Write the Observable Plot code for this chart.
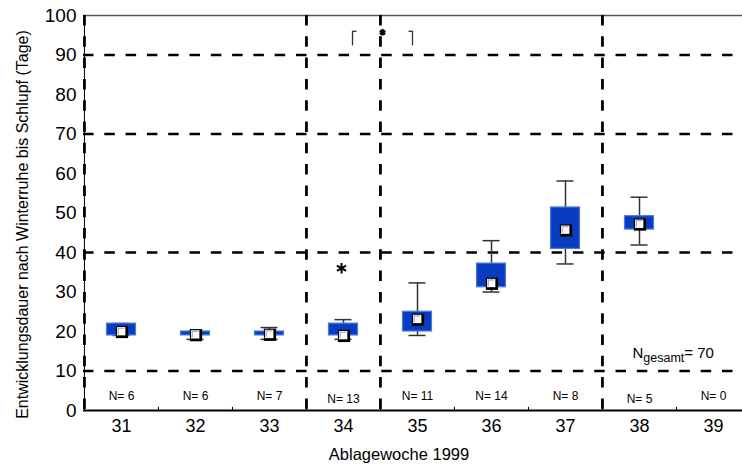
<!DOCTYPE html>
<html>
<head>
<meta charset="utf-8">
<script src="https://cdn.jsdelivr.net/npm/d3@7"></script>
<script src="https://cdn.jsdelivr.net/npm/@observablehq/plot@0.6"></script>
<style>
  body { margin: 0; background: #fff; }
</style>
</head>
<body>
<div id="chart"></div>
<script>
// Laying week (1999) and development time after hibernation until hatching (days)
const weeks = ["31", "32", "33", "34", "35", "36", "37", "38", "39"];
const counts = [6, 6, 7, 13, 11, 14, 8, 5, 0];
const whiskerLow = [19, 18, 18, 18, 19, 30, 37.1, 41.9, null];
const quartileLow = [19, 19, 19, 19, 20, 31.2, 40.9, 45.8, null];
const medians = [20, 19.2, 19.3, 19, 23.1, 32.2, 45.7, 47.2, null];
const quartileHigh = [22, 20, 20, 22, 25, 37.2, 51.4, 49.2, null];
const whiskerHigh = [22, 20, 21, 23, 32.3, 43, 58.1, 54, null];

// Outliers
const outlierWeeks = ["34"];
const outlierValues = [36];

// Reference levels and week-group dividers
const referenceLevels = [10, 40, 70, 90];
const dividerWeeks = ["31", "34", "35", "38"];
const boundaryWeeks = ["32", "33", "34", "35", "36", "37", "38", "39"];
const yTicks = [0, 10, 20, 30, 40, 50, 60, 70, 80, 90, 100];

// Significance bracket between weeks 34 and 35
const bracketFrom = ["34"];
const bracketTo = ["35"];
const bracketLow = [92.3];
const bracketHigh = [96];

const total = d3.sum(counts);

const width = 742, height = 468;
const marginLeft = 83, marginRight = -8, marginTop = 15, marginBottom = 58;
const bw = (width - marginRight - marginLeft) / weeks.length;

const boxes = weeks.map((w, i) => ({
  week: w, n: counts[i], lo: whiskerLow[i], q1: quartileLow[i],
  med: medians[i], q3: quartileHigh[i], hi: whiskerHigh[i]
})).filter(d => d.med != null);
const labels = weeks.map((w, i) => ({week: w, text: "N= " + counts[i]}));
const outliers = outlierWeeks.map((w, i) => ({week: w, value: outlierValues[i]}));
const brackets = bracketFrom.map((f, i) => ({from: f, to: bracketTo[i], low: bracketLow[i], high: bracketHigh[i]}));

// Small custom symbols: a corner highlight and bracket hooks
const corner = {draw(ctx, size) { const s = Math.sqrt(size) / 2; ctx.moveTo(-s, s); ctx.lineTo(-s, -s); ctx.lineTo(s, -s); }};
const hookRight = {draw(ctx, size) { const r = Math.sqrt(size / Math.PI); ctx.moveTo(0, 0); ctx.lineTo(r, 0); }};
const hookLeft = {draw(ctx, size) { const r = Math.sqrt(size / Math.PI); ctx.moveTo(0, 0); ctx.lineTo(-r, 0); }};

const dash = "10.5,10.8";
const shifted = new Set(["34", "38"]);
const totalLabel = "Ngesamt= " + total;

const chart = Plot.plot({
  width, height, marginLeft, marginRight, marginTop, marginBottom,
  style: {fontFamily: "'Liberation Sans', Arial, sans-serif", background: "#fff", color: "#000", overflow: "visible"},
  x: {type: "band", domain: weeks, padding: 0},
  y: {domain: [0, 100]},
  marks: [
    // frame and reference lines
    Plot.ruleY([100], {stroke: "#555", strokeWidth: 1.5}),
    Plot.ruleX(["31"], {dx: -bw / 2, stroke: "#000", strokeWidth: 1}),
    Plot.ruleY(referenceLevels, {stroke: "#000", strokeWidth: 2.6, strokeDasharray: dash}),
    Plot.ruleX(dividerWeeks, {dx: -bw / 2, stroke: "#000", strokeWidth: 2.8, strokeDasharray: dash}),
    Plot.ruleY([0], {stroke: "#000", strokeWidth: 2}),
    Plot.ruleX(boundaryWeeks, {dx: -bw / 2, y1: 0, y2: 0.8, stroke: "#000", strokeWidth: 1}),

    // whiskers and caps
    Plot.ruleX(boxes, {x: "week", y1: "lo", y2: "hi", stroke: "#333", strokeWidth: 1.5}),
    Plot.tickY(boxes, {x: "week", y: "lo", insetLeft: 28.5, insetRight: 28.5, stroke: "#333", strokeWidth: 1.5}),
    Plot.tickY(boxes, {x: "week", y: "hi", insetLeft: 28.5, insetRight: 28.5, stroke: "#333", strokeWidth: 1.5}),

    // interquartile boxes
    Plot.barY(boxes, {x: "week", y1: "q1", y2: "q3", fill: "#0a3cbf", stroke: "#4a7be4", strokeWidth: 1.2, insetLeft: 22.5, insetRight: 22.5}),

    // median markers
    Plot.dot(boxes, {x: "week", y: "med", symbol: "square", r: 6.9, fill: "#000", dx: 0.5, dy: 0.5}),
    Plot.dot(boxes, {x: "week", y: "med", symbol: "square", r: 4.7, fill: "#fff", dx: -0.3, dy: -0.3}),
    Plot.dot(boxes, {x: "week", y: "med", symbol: corner, r: 3.4, fill: "none", stroke: "#999", strokeWidth: 1, dx: -0.3, dy: -0.3}),

    // outliers
    Plot.dot(outliers, {x: "week", y: "value", symbol: "asterisk", r: 5, stroke: "#000", strokeWidth: 2, dx: -2}),

    // significance bracket
    Plot.ruleX(brackets, {x: "from", y1: "low", y2: "high", dx: 9, stroke: "#333", strokeWidth: 1.3}),
    Plot.ruleX(brackets, {x: "to", y1: "low", y2: "high", dx: -5, stroke: "#333", strokeWidth: 1.3}),
    Plot.dot(brackets, {x: "from", y: "high", symbol: hookRight, r: 4, fill: "none", stroke: "#333", strokeWidth: 1.3, dx: 9}),
    Plot.dot(brackets, {x: "to", y: "high", symbol: hookLeft, r: 4, fill: "none", stroke: "#333", strokeWidth: 1.3, dx: -5}),
    Plot.dot(brackets, {x: "from", y: "high", symbol: "asterisk", r: 3, stroke: "#000", strokeWidth: 2.4, dx: (bw + 4) / 2, dy: 1}),

    // sample sizes
    Plot.text(labels.filter(d => !shifted.has(d.week)), {x: "week", y: 0, text: "text", dy: -14, fontSize: 12}),
    Plot.text(labels.filter(d => shifted.has(d.week)), {x: "week", y: 0, text: "text", dy: -11, fontSize: 12}),
    Plot.text([totalLabel], {x: () => "38", y: () => 14.6, text: d => d, textAnchor: "start", dx: -7, fontSize: 15}),

    // axes
    Plot.axisX({tickSize: 0, tickPadding: 9, fontSize: 18, label: null}),
    Plot.axisY({ticks: yTicks, tickSize: 0, tickPadding: 7, fontSize: 19, label: null}),
    Plot.text(["Ablagewoche 1999"], {frameAnchor: "bottom", text: d => d, lineAnchor: "middle", dx: -18, dy: 44, fontSize: 16.5}),
    Plot.text(["Entwicklungsdauer nach Winterruhe bis Schlupf (Tage)"], {frameAnchor: "left", text: d => d, textAnchor: "middle", lineAnchor: "middle", rotate: -90, dx: -61, dy: 11.5, fontSize: 16})
  ]
});

// Subscript for the total count label
d3.select(chart).selectAll("text").filter(function () { return this.textContent === totalLabel; }).each(function () {
  const t = d3.select(this);
  t.text(null);
  t.append("tspan").text("N");
  t.append("tspan").attr("font-size", 12.5).attr("dy", 4).text("gesamt");
  t.append("tspan").attr("dy", -4).text("= " + total);
});

document.getElementById("chart").appendChild(chart);
</script>
</body>
</html>
